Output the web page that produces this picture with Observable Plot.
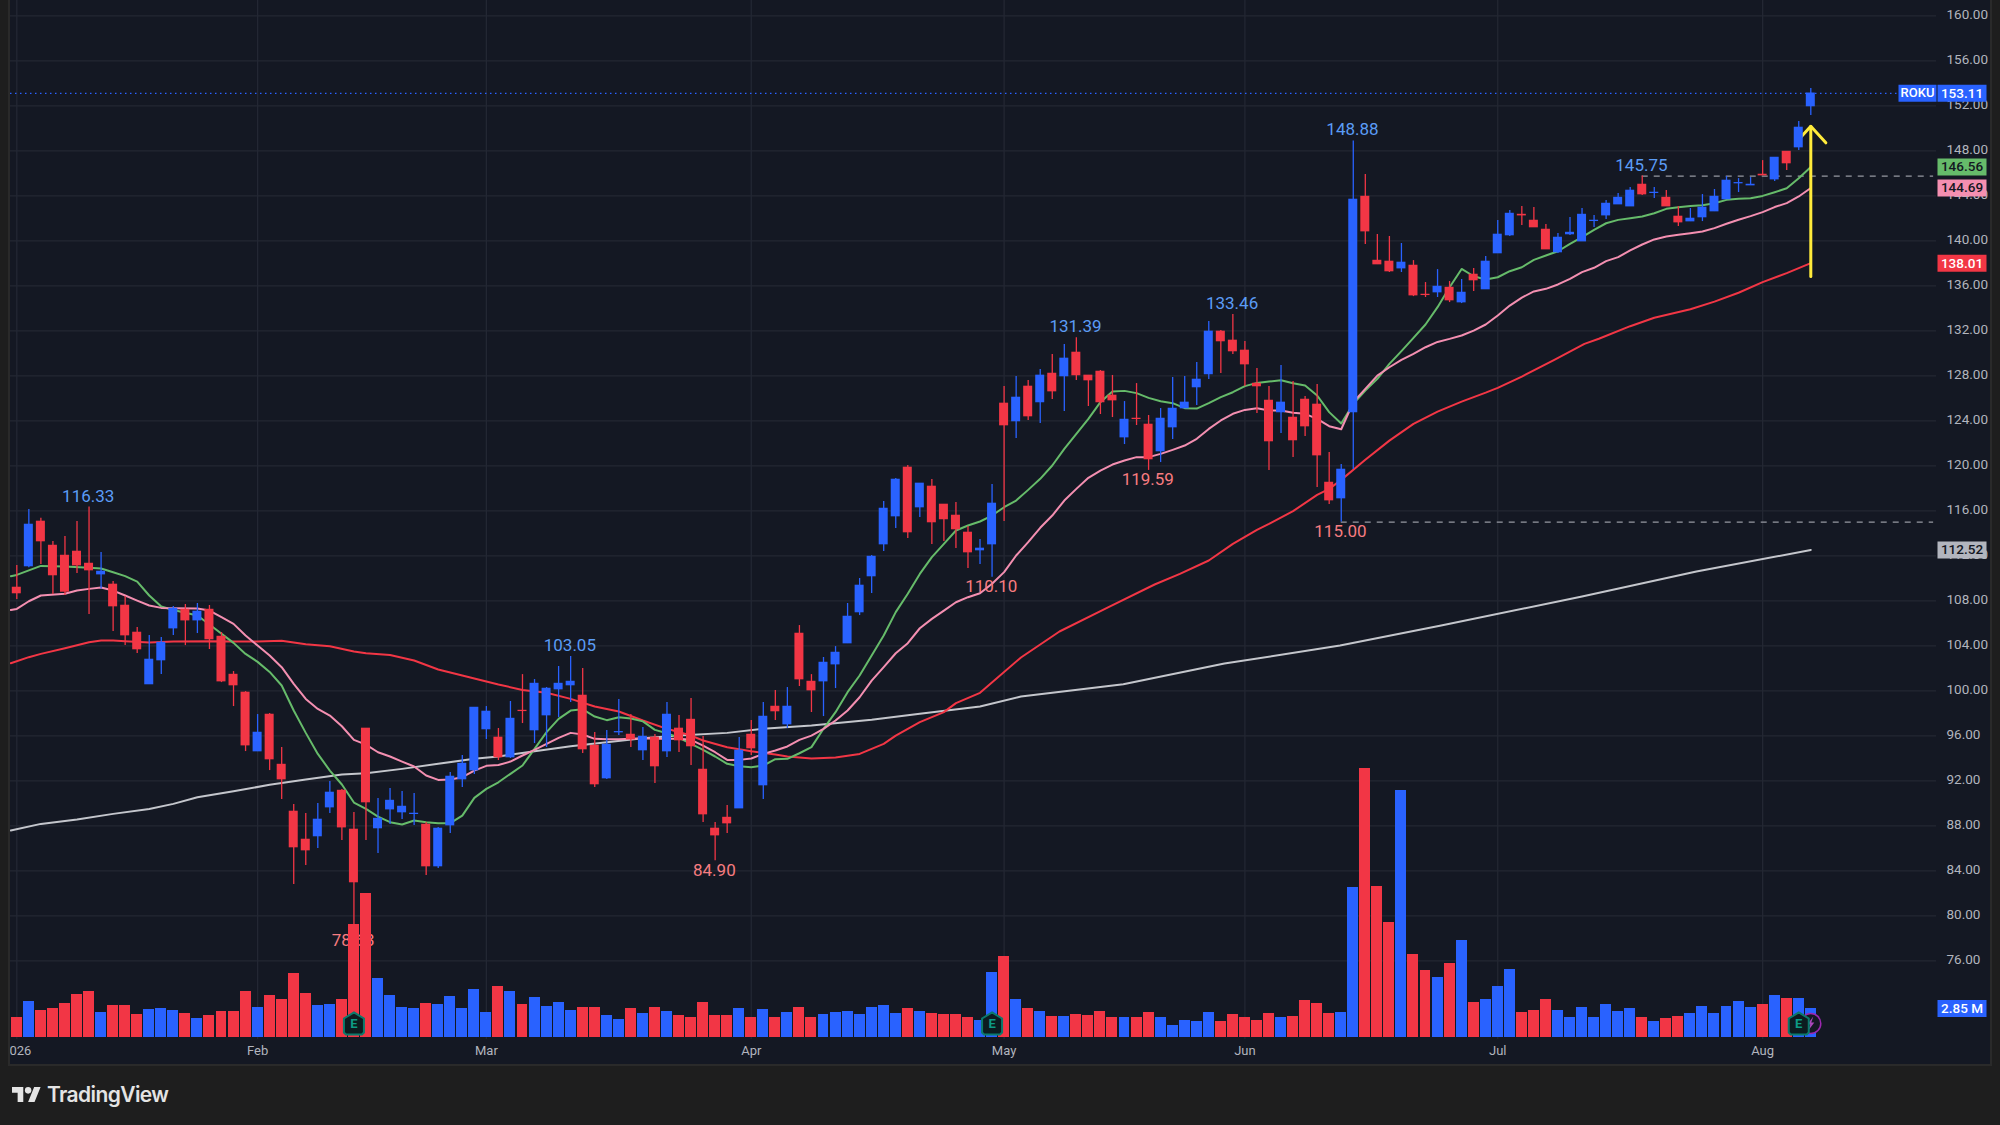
<!DOCTYPE html>
<html>
<head>
<meta charset="utf-8">
<script src="https://cdn.jsdelivr.net/npm/d3@7"></script>
<script src="https://cdn.jsdelivr.net/npm/@observablehq/plot@0.6"></script>
<style>
html,body{margin:0;padding:0;background:#1e1e1e;overflow:hidden}
#stage{position:relative;width:2000px;height:1125px;overflow:hidden;background:#1e1e1e}
#panel{position:absolute;left:8px;top:-2px;width:1980px;height:1064px;background:#141823;border:2px solid #2a2a2a}
#stage svg.layer{position:absolute;left:0;top:0;max-width:none}
#leftEdge{position:absolute;left:0;top:0;width:8px;height:1066px;background:#1e1e1e;border-right:2px solid #2a2a2a;box-sizing:content-box}
#brand{position:absolute;left:12px;top:1082px;display:flex;align-items:center;gap:6px;color:#e4e4e4;font:600 21px Inter,Roboto,sans-serif;letter-spacing:-.6px;height:24px}
</style>
</head>
<body>
<div id="stage">
  <div id="panel"></div>
  <div id="chartHost"></div>
  <div id="leftEdge"></div>
  <div id="brand">
    <svg width="29" height="15" viewBox="0 4 36 18" preserveAspectRatio="none"><path fill="#e4e4e4" d="M14 22H7V11H0V4h14v18zM28 22h-8l7.5-18h8L28 22z"/><circle fill="#e4e4e4" cx="20" cy="8" r="4"/></svg>
    <span>TradingView</span>
  </div>
</div>
<script>
// ---- daily candles (index 0 = first session of 2026) ----
const open = [
109.18,111.05,115.05,112.91,112.02,112.38,111.31,110.33,109.45,107.58,
105.18,100.56,102.69,105.53,107.22,106.24,107.22,104.82,101.44,99.85,
94.60,97.89,93.44,89.27,86.78,87.05,89.62,91.13,87.67,96.65,
87.76,89.44,89.18,89.03,88.11,84.38,88.02,92.11,92.91,96.56,
95.85,94.07,98.24,96.47,97.80,100.11,100.47,99.58,95.13,92.20,
96.29,96.11,94.69,95.85,94.60,96.65,97.44,93.00,87.76,88.73,
89.53,96.11,91.58,98.60,97.00,105.09,100.82,100.82,102.33,104.20,
106.96,110.16,113.00,115.49,119.85,116.29,118.16,116.56,115.58,114.07,
112.47,113.00,125.54,123.94,127.05,125.63,128.20,127.94,130.07,128.03,
128.38,126.25,122.51,124.20,123.67,121.27,123.40,125.09,126.96,128.12,
131.94,131.14,130.25,127.31,125.80,124.74,124.29,125.89,125.45,118.51,
117.09,124.74,143.93,138.24,138.16,137.53,137.80,135.22,135.40,135.84,
134.51,137.00,135.67,138.87,140.47,142.33,141.80,141.00,138.96,140.56,
139.93,141.74,142.24,143.22,143.04,145.00,144.23,143.84,142.16,141.71,
142.07,142.60,143.67,145.09,144.91,145.89,145.44,147.93,148.29,151.94];
const high = [
111.13,116.11,115.34,113.27,113.71,115.05,116.33,112.29,109.71,108.38,
105.62,104.91,104.73,107.49,107.67,107.76,107.58,105.18,101.71,99.93,
97.89,97.98,94.96,89.89,89.09,89.98,91.93,91.22,89.18,96.65,
90.42,91.31,91.05,90.87,88.29,87.84,92.73,94.24,98.51,98.60,
96.65,99.05,101.44,101.00,100.29,102.16,103.05,101.98,96.29,96.47,
99.22,97.89,96.73,96.11,98.96,97.80,99.31,95.93,88.29,89.80,
95.85,97.36,98.96,100.02,100.29,105.80,101.44,102.96,103.93,107.76,
109.98,112.02,116.82,118.87,120.03,118.43,118.78,116.56,116.74,114.61,
113.45,118.34,127.05,127.94,127.58,128.56,129.89,130.78,131.39,128.03,
128.47,128.03,125.71,127.31,124.47,125.09,127.85,127.94,129.18,132.83,
132.03,133.46,131.05,128.65,127.05,128.92,127.49,126.16,127.23,121.18,
120.11,148.88,145.89,140.56,140.38,139.76,138.24,136.29,137.44,136.38,
136.56,137.53,138.60,141.80,142.69,143.04,142.96,141.44,140.64,142.07,
142.87,142.24,143.58,144.20,144.73,145.75,144.73,144.47,143.04,142.87,
144.11,144.56,145.71,145.53,145.62,147.13,147.40,147.93,150.61,153.54];
const low = [
108.11,110.93,111.22,108.56,108.47,110.42,106.78,109.06,105.27,104.02,
103.31,100.56,101.44,104.91,104.02,105.09,103.67,100.73,98.60,94.60,
94.60,92.91,90.33,82.78,84.47,85.98,89.09,86.69,78.63,86.69,
85.53,88.11,88.56,88.02,83.58,84.20,87.31,91.40,92.56,95.67,
93.80,93.98,97.09,95.31,94.96,97.62,98.96,94.42,91.40,92.11,
96.02,94.96,93.80,91.76,94.07,94.51,93.36,88.29,84.90,87.31,
89.53,94.25,90.33,97.36,96.65,100.38,98.07,97.71,100.20,104.20,
106.69,108.64,112.38,114.43,113.54,115.41,113.00,113.27,112.65,110.87,
111.23,110.10,115.05,122.43,124.03,123.76,125.89,124.83,127.58,125.27,
124.56,124.29,121.89,123.58,119.59,120.29,122.34,125.09,125.36,127.67,
128.20,129.89,127.05,124.65,119.58,122.87,120.74,122.60,118.07,116.56,
115.00,119.67,139.67,137.89,137.18,137.18,135.04,134.96,134.96,134.51,
134.42,135.49,135.67,138.87,140.38,141.36,141.18,139.22,138.87,140.47,
139.93,141.18,141.89,143.22,143.04,144.02,143.76,143.04,141.27,141.71,
141.71,142.60,143.67,144.29,144.91,145.80,145.27,146.24,148.03,151.14];
const close = [
108.65,114.78,113.27,110.25,108.79,111.13,110.69,110.60,107.49,104.91,
103.67,102.78,104.29,107.31,106.24,107.05,104.56,100.82,100.47,95.13,
96.29,93.89,92.11,86.07,85.80,88.56,90.96,87.84,82.96,90.07,
88.64,90.24,89.71,89.09,84.38,87.76,92.38,93.53,98.51,98.16,
94.07,97.53,98.18,100.64,100.20,100.64,100.82,94.78,91.67,95.22,
96.35,95.67,95.93,93.27,97.89,95.58,95.05,89.00,87.13,88.20,
94.69,94.87,97.71,98.16,98.60,101.00,100.02,102.51,103.40,106.60,
109.36,111.93,116.20,118.78,114.07,118.43,114.96,115.23,114.34,112.29,
112.65,116.65,123.58,126.07,124.38,128.03,126.60,129.54,128.03,127.58,
125.63,125.80,124.11,124.14,120.56,124.20,125.09,125.63,127.67,131.94,
131.05,130.16,129.00,127.05,122.16,125.63,122.25,123.49,120.91,116.91,
119.67,143.67,140.82,137.89,137.27,138.07,135.13,135.16,135.93,134.69,
135.40,136.47,138.16,140.56,142.42,142.24,141.18,139.22,140.29,140.73,
142.33,141.80,143.31,143.84,144.47,144.11,144.29,143.04,141.62,141.98,
142.96,143.93,145.36,145.15,145.00,145.80,147.40,146.87,150.07,153.11];
// ---- volume, millions of shares ----
const volume = [
1.97,3.54,2.65,2.85,3.34,4.23,4.52,2.46,3.15,3.15,
2.26,2.75,2.85,2.65,2.36,1.87,2.16,2.56,2.56,4.52,
2.95,4.13,3.74,6.29,4.33,3.15,3.24,3.74,11.11,14.16,
5.80,4.13,2.95,2.85,3.34,3.24,4.03,2.85,4.72,2.46,
5.01,4.52,3.24,3.93,3.05,3.44,2.65,2.95,2.95,2.16,
1.77,2.85,2.36,2.95,2.56,2.16,1.97,3.44,2.16,2.16,
2.85,1.97,2.75,1.97,2.46,2.95,1.97,2.26,2.46,2.56,
2.26,2.95,3.15,2.36,2.85,2.56,2.36,2.26,2.26,1.97,
1.67,6.39,7.96,3.74,2.85,2.56,2.06,2.06,2.26,2.16,
2.56,1.97,1.97,1.97,2.46,1.97,1.18,1.67,1.57,2.46,
1.57,2.26,1.97,1.67,2.36,1.97,2.06,3.64,3.34,2.36,
2.46,14.75,26.44,14.84,11.30,24.28,8.16,6.59,5.90,7.27,
9.54,3.44,3.74,5.01,6.68,2.46,2.65,3.74,2.65,1.97,
2.95,1.97,3.24,2.56,2.85,1.97,1.57,1.87,2.06,2.36,
3.05,2.36,3.05,3.54,2.95,3.24,4.13,3.83,3.83,2.85];
// ---- moving averages: [bar index, price] ----
const greenLine = [[-0.5,110.19],[0,110.30],[2,111.10],[4,111.05],[6,110.93],[7,110.87],[8,110.54],[9,110.19],[10,109.71],[11,108.47],[12,107.49],[13,107.19],[15,106.69],[16,105.89],[18,104.26],[19,103.28],[20,102.57],[21,101.68],[22,100.47],[23,98.25],[24,96.26],[25,94.39],[26,92.91],[27,91.67],[28,90.07],[29,89.50],[30,88.82],[31,88.32],[32,88.11],[33,88.47],[34,88.32],[35,88.23],[36,88.23],[37,88.91],[38,90.48],[39,91.28],[40,91.87],[41,92.62],[42,93.36],[43,94.84],[44,96.32],[45,97.50],[46,98.24],[47,98.36],[48,97.71],[49,97.39],[50,97.65],[51,97.53],[52,97.28],[53,96.53],[54,96.23],[55,95.82],[56,95.28],[57,94.75],[58,94.16],[59,93.51],[60,93.30],[61,93.21],[62,93.36],[63,93.92],[64,93.95],[65,94.45],[66,94.99],[67,96.62],[68,98.10],[69,99.88],[70,101.36],[71,103.13],[72,104.91],[73,106.99],[74,108.62],[75,110.39],[76,111.88],[77,113.06],[78,114.25],[79,114.69],[80,115.05],[81,115.58],[82,116.32],[83,116.91],[84,117.86],[85,118.84],[86,120.03],[87,121.51],[88,122.84],[89,124.17],[90,125.66],[91,126.60],[92,126.66],[93,126.46],[94,126.04],[95,125.74],[96,125.57],[97,125.12],[98,125.09],[99,125.57],[100,126.10],[101,126.54],[102,127.08],[103,127.37],[104,127.49],[105,127.61],[106,127.34],[107,127.14],[108,126.25],[109,124.77],[110,123.76],[111,125.50],[112,126.69],[113,127.73],[114,129.06],[115,130.19],[116,131.37],[117,132.56],[118,134.10],[119,135.87],[120,137.50],[121,136.85],[122,136.56],[123,136.76],[124,137.30],[125,137.65],[126,138.30],[127,138.69],[128,139.07],[129,139.73],[130,140.32],[131,140.97],[132,141.56],[133,141.86],[134,142.01],[135,142.16],[136,142.45],[137,142.84],[138,142.99],[139,143.10],[140,143.16],[141,143.34],[142,143.64],[143,143.73],[144,143.79],[145,143.99],[146,144.32],[147,144.67],[148,145.56],[149,146.56]];
const pinkLine = [[-0.5,107.19],[0,107.28],[1,107.96],[2,108.47],[4,108.62],[5,108.91],[6,109.06],[7,109.18],[8,108.91],[9,108.47],[10,108.02],[11,107.58],[12,107.37],[13,107.34],[15,107.31],[16,107.13],[17,106.54],[18,105.95],[19,104.91],[20,104.02],[21,103.13],[22,102.10],[23,100.62],[24,99.28],[25,98.39],[26,97.80],[27,96.85],[28,95.64],[29,95.22],[30,94.54],[31,94.16],[32,93.71],[33,93.27],[34,92.47],[35,92.08],[36,92.11],[37,92.32],[38,92.91],[39,93.33],[40,93.40],[41,93.71],[42,94.25],[43,94.75],[44,95.28],[45,95.82],[46,96.26],[47,96.11],[48,95.73],[49,95.70],[50,95.70],[51,95.73],[52,95.79],[53,95.73],[54,95.73],[55,95.73],[56,95.64],[57,95.13],[58,94.54],[59,93.86],[60,93.86],[61,93.98],[62,94.39],[63,94.69],[64,95.05],[65,95.64],[66,96.02],[67,96.62],[68,97.36],[69,98.25],[70,99.43],[71,100.91],[72,102.10],[73,103.34],[74,104.23],[75,105.56],[76,106.39],[77,107.13],[78,107.87],[79,108.32],[80,108.67],[81,109.51],[82,110.55],[83,112.03],[84,113.21],[85,114.49],[86,115.58],[87,116.91],[88,117.95],[89,118.93],[90,119.58],[91,120.11],[92,120.47],[93,120.77],[94,120.77],[95,121.06],[96,121.42],[97,121.80],[98,122.40],[99,123.28],[100,124.03],[101,124.62],[102,124.97],[103,125.12],[104,124.91],[105,124.91],[106,124.71],[107,124.62],[108,124.17],[109,123.52],[110,123.25],[111,125.65],[112,126.84],[113,128.02],[114,128.76],[115,129.41],[116,129.95],[117,130.54],[118,131.01],[119,131.28],[120,131.58],[121,132.02],[122,132.56],[123,133.36],[124,134.24],[125,134.95],[126,135.50],[127,135.73],[128,136.12],[129,136.62],[130,137.22],[131,137.60],[132,138.19],[133,138.55],[134,139.14],[135,139.67],[136,140.12],[137,140.39],[138,140.53],[139,140.68],[140,140.83],[141,141.13],[142,141.51],[143,141.87],[144,142.19],[145,142.55],[146,143.00],[147,143.35],[148,143.94],[149,144.69]];
const redLine = [[-0.5,102.45],[1,102.99],[2,103.28],[4,103.79],[6,104.32],[7,104.47],[8,104.47],[9,104.41],[11,104.29],[13,104.38],[16,104.41],[18,104.38],[20,104.38],[22,104.44],[24,104.14],[26,103.96],[28,103.49],[29,103.34],[31,103.19],[33,102.69],[35,101.89],[37,101.36],[40,100.56],[42,100.08],[44,99.82],[46,99.28],[48,98.60],[50,98.16],[52,97.36],[54,96.62],[56,96.02],[57,95.58],[59,94.99],[61,94.63],[63,94.33],[64,94.16],[66,93.98],[68,94.07],[70,94.39],[72,95.28],[73,96.02],[75,97.21],[77,98.10],[78,98.90],[80,99.82],[83.4,102.96],[86.6,105.27],[90.8,107.50],[94.5,109.45],[96.6,110.40],[99,111.58],[101,113.06],[103,114.31],[104,114.84],[106,115.97],[108,117.42],[109,117.95],[110,118.75],[112,120.53],[114,122.24],[116,123.73],[118,124.82],[120,125.70],[122,126.50],[123,126.93],[125,127.93],[127.7,129.42],[130.2,130.84],[131.4,131.29],[134,132.41],[136,133.16],[139,133.91],[141,134.59],[143,135.38],[145,136.33],[147,137.13],[149,138.01]];
const whiteLine = [[-0.5,87.58],[2,88.17],[5,88.56],[8,89.06],[11,89.50],[13,89.95],[15,90.54],[18,91.07],[21,91.64],[24,92.11],[27,92.56],[29,92.67],[32,93.06],[35,93.51],[38,93.95],[40,94.16],[43,94.63],[46,95.07],[49,95.43],[52,95.79],[55,96.02],[59,96.26],[62,96.62],[66,96.91],[71,97.42],[75,97.95],[80,98.60],[83.4,99.49],[91.9,100.59],[100.3,102.42],[109.9,104.02],[118.3,105.80],[130,108.39],[139.5,110.60],[149,112.52]];
// ---- labels and axes ----
const highLabels = [[6,116.33],[46,103.05],[88,131.39],[101,133.46],[111,148.88],[135,145.75]];
const lowLabels = [[28,78.63],[58,84.90],[81,110.10],[94,119.59],[110,115.00]];
const priceTicks = d3.range(76, 161, 4);
const monthTicks = [0,20,39,61,82,102,123,145];
const monthLabels = ["2026","Feb","Mar","Apr","May","Jun","Jul","Aug"];
const dashedLevels = [[110,115.00],[135,145.75]];
const lastPrice = 153.11;
const arrowShaft = [[149,136.83],[149,150.19]];
const arrowHead = [[147.75,148.71],[149,150.19],[150.25,148.71]];
const earningsBars = [28,81,148];
const dividendBars = [149];
const priceTags = [
  {p:153.11,t:"153.11",bg:"#2962ff",fg:"#ffffff"},
  {p:146.56,t:"146.56",bg:"#66bb6a",fg:"#131722"},
  {p:144.69,t:"144.69",bg:"#f48fb1",fg:"#131722"},
  {p:138.01,t:"138.01",bg:"#f23645",fg:"#ffffff"},
  {p:112.52,t:"112.52",bg:"#b2b5be",fg:"#131722"}
];
const FONT = "Roboto, 'Liberation Sans', sans-serif";
const BLUE = "#2962ff", RED = "#f23645", GRID = "#232733";

const bars = d3.range(open.length).map(i => ({
  i, o: open[i], h: high[i], l: low[i], c: close[i], v: volume[i],
  col: close[i] >= open[i] ? BLUE : RED
}));

const W = 2000, H = 1125, RIGHT = 64;
const xScale = {type:"linear", domain:[-1.354,159.44], range:[0,W-RIGHT]};
const common = {width:W, height:H, marginLeft:0, marginRight:RIGHT, marginTop:0,
  style:{background:"transparent", fontFamily:FONT, fontSize:"13px", overflow:"visible"},
  className:"layer", color:{type:"identity"}};

const tagBox = {draw(c){ c.rect(1,-8.5,49,17); }};
const rokuBox = {draw(c){ c.rect(-38,-8.5,38,17); }};
const house = {draw(c){ c.moveTo(0,-11); c.lineTo(10,-5); c.lineTo(10,9); c.lineTo(8,11); c.lineTo(-8,11); c.lineTo(-10,9); c.lineTo(-10,-5); c.closePath(); }};
const bolt = {draw(c){ c.moveTo(2.5,-7); c.lineTo(-3.5,1); c.lineTo(-0.5,1); c.lineTo(-2.5,7); c.lineTo(3.5,-1); c.lineTo(0.5,-1); c.closePath(); }};

const maLine = (data, stroke) => Plot.line(data, {x:d=>d[0], y:d=>d[1], stroke, strokeWidth:2, curve:"linear"});

const pricePlot = Plot.plot({
  ...common, marginBottom:0,
  x:{...xScale, axis:null},
  y:{type:"linear", domain:[61.36,161.36], range:[H,0], axis:null},
  marks:[
    Plot.ruleY(priceTicks, {stroke:GRID, strokeWidth:1.3}),
    Plot.ruleX(monthTicks, {y1:161.36, y2:69, stroke:GRID, strokeWidth:1.3}),
    Plot.ruleY([lastPrice], {x1:-1.354, x2:156.3, stroke:BLUE, strokeWidth:1.3, strokeDasharray:"1.5,3.5"}),
    Plot.ruleY(dashedLevels, {x1:d=>d[0], x2:159.2, y:d=>d[1], stroke:"#9598a1", strokeWidth:1.2, strokeDasharray:"6,6"}),
    maLine(whiteLine, "#c4c6cc"),
    maLine(redLine, RED),
    maLine(greenLine, "#66bb6a"),
    maLine(pinkLine, "#f48fb1"),
    Plot.line(arrowShaft, {x:d=>d[0], y:d=>d[1], stroke:"#ffeb3b", strokeWidth:3}),
    Plot.line(arrowHead, {x:d=>d[0], y:d=>d[1], stroke:"#ffeb3b", strokeWidth:3, strokeLinejoin:"miter"}),
    Plot.ruleX(bars, {x:"i", y1:"l", y2:"h", stroke:"col", strokeWidth:1.3}),
    Plot.rect(bars, {x1:d=>d.i-0.374, x2:d=>d.i+0.374, y1:"o", y2:"c", fill:"col", insetTop:-0.3, insetBottom:-0.3}),
    Plot.text(highLabels, {x:d=>d[0], y:d=>d[1], text:d=>d[1].toFixed(2), dx:-0.8, dy:-11, fill:"#5b9cf6", fontSize:17, fontFamily:FONT}),
    Plot.text(lowLabels, {x:d=>d[0], y:d=>d[1], text:d=>d[1].toFixed(2), dx:-0.8, dy:9.5, fill:"#f77c80", fontSize:17, fontFamily:FONT}),
    Plot.axisY(priceTicks, {anchor:"right", tickSize:0, tickPadding:10, dy:-0.7, tickFormat:d=>d.toFixed(2), label:null, color:"#b2b5be", fontSize:13.5}),
    Plot.dot(priceTags, {y:"p", frameAnchor:"right", symbol:tagBox, fill:"bg", r:3}),
    Plot.text(priceTags, {y:"p", text:"t", frameAnchor:"right", textAnchor:"middle", dx:25.5, fill:"fg", fontSize:13.5, fontWeight:500}),
    Plot.dot([lastPrice], {y:d=>d, frameAnchor:"right", symbol:rokuBox, fill:BLUE, r:3}),
    Plot.text(["ROKU"], {y:[lastPrice], text:d=>d, frameAnchor:"right", textAnchor:"middle", dx:-19, fill:"#ffffff", fontSize:13, fontWeight:500})
  ]
});

const volumePlot = Plot.plot({
  ...common, marginBottom:88,
  x:{...xScale, axis:null},
  y:{type:"linear", domain:[0,101.94], range:[1037,0], axis:null},
  marks:[
    Plot.rect(bars, {x1:d=>d.i-0.455, x2:d=>d.i+0.455, y1:0, y2:"v", fill:"col", shapeRendering:"crispEdges"}),
    Plot.dot(dividendBars, {x:d=>d, y:()=>1.38, r:10, fill:"#141823", stroke:"#9c27b0", strokeWidth:1.5}),
    Plot.dot(dividendBars, {x:d=>d, y:()=>1.38, symbol:bolt, fill:"#ab47bc", r:3}),
    Plot.dot(earningsBars, {x:d=>d, y:()=>1.38, symbol:house, fill:"#0c1c20", stroke:"#0b7a6c", strokeWidth:2, r:3}),
    Plot.text(earningsBars, {x:d=>d, y:()=>1.38, text:()=>"E", fill:"#0d9c86", fontSize:13, fontWeight:700}),
    Plot.axisX(monthTicks, {anchor:"bottom", tickSize:0, tickPadding:8, tickFormat:d=>monthLabels[monthTicks.indexOf(d)], label:null, color:"#b2b5be", fontSize:13}),
    Plot.dot([2.85], {y:d=>d, frameAnchor:"right", symbol:tagBox, fill:BLUE, r:3}),
    Plot.text(["2.85 M"], {y:[2.85], text:d=>d, frameAnchor:"right", textAnchor:"middle", dx:25.5, fill:"#ffffff", fontSize:13.5, fontWeight:500})
  ]
});

const host = document.getElementById("chartHost");
host.append(pricePlot, volumePlot);
</script>
</body>
</html>
